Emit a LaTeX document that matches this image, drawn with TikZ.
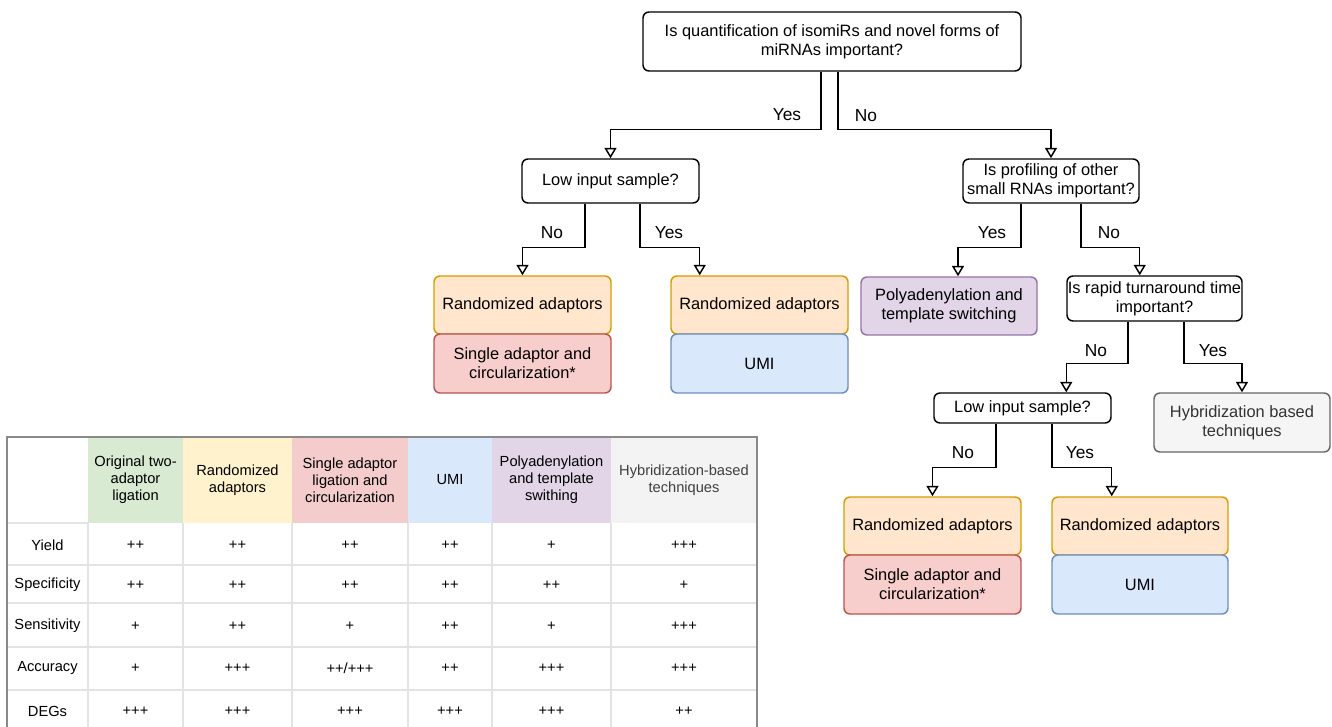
\documentclass[tikz,border=0pt]{standalone}
\usepackage{fontspec}
\setmainfont{Liberation Sans}
\usetikzlibrary{arrows.meta}
\definecolor{orF}{HTML}{FFE6CC}\definecolor{orD}{HTML}{D79B00}
\definecolor{rdF}{HTML}{F8CECC}\definecolor{rdD}{HTML}{B85450}
\definecolor{blF}{HTML}{DAE8FC}\definecolor{blD}{HTML}{6C8EBF}
\definecolor{puF}{HTML}{E1D5E7}\definecolor{puD}{HTML}{9673A6}
\definecolor{gyF}{HTML}{F5F5F5}\definecolor{gyD}{HTML}{666666}\definecolor{gyT}{HTML}{333333}
\definecolor{gnH}{HTML}{D9EAD3}\definecolor{ylH}{HTML}{FFF2CC}\definecolor{rdH}{HTML}{F4CCCC}
\definecolor{blH}{HTML}{DAE8FC}\definecolor{puH}{HTML}{E1D5E7}\definecolor{gyH}{HTML}{F3F3F3}
\definecolor{gridc}{HTML}{E3E3E3}\definecolor{brd}{HTML}{8A8A8A}\definecolor{hybT}{HTML}{404040}
\tikzset{
  box/.style={draw=black, fill=white, rounded corners=4.5pt, line width=1.1pt, inner sep=0pt,
    align=center, font=\fontsize{12.3}{14.3}\selectfont, text=black, minimum width=132.75pt},
  orbox/.style={box, draw=orD, fill=orF, minimum height=43.5pt},
  rdbox/.style={box, draw=rdD, fill=rdF, minimum height=44.25pt},
  blbox/.style={box, draw=blD, fill=blF, minimum height=44.25pt},
  pubox/.style={box, draw=puD, fill=puF, minimum width=132pt, minimum height=43.5pt},
  gybox/.style={box, draw=gyD, fill=gyF, text=gyT, minimum width=132pt, minimum height=44.25pt},
  arr/.style={draw=black, line width=1.1pt, -{Triangle[open, length=7.8pt, width=9pt, line width=1.1pt]}},
  lbl/.style={font=\fontsize{13}{15}\selectfont, inner sep=0pt},
  tcell/.style={font=\fontsize{11}{12.75}\selectfont, align=center, inner sep=0pt},
}
\newcommand\tabrow[9]{%
  \node[tcell] (r#1c0) at (47.5,#2) {#3};
  \node[tcell] (r#1c1) at (135.5,#2) {#4};
  \node[tcell] (r#1c2) at (237.5,#2) {#5};
  \node[tcell] (r#1c3) at (350,#2) {#6};
  \node[tcell] (r#1c4) at (450,#2) {#7};
  \node[tcell] (r#1c5) at (551.5,#2) {#8};
  \node[tcell] (r#1c6) at (684,#2) {#9};}
\begin{document}
\begin{tikzpicture}[x=0.75pt, y=-0.75pt]
\useasboundingbox (0,0) rectangle (1332,727);
% ---------- flowchart nodes ----------
\node[box, minimum width=283.5pt, minimum height=44.25pt] (top) at (832,41.5)
  {Is quantification of isomiRs and novel forms of\\miRNAs important?};
\node[box, minimum height=33pt] (lowL) at (610.5,181) {Low input sample?};
\node[orbox] (randL) at (522.5,305) {Randomized adaptors};
\node[rdbox] (singL) at (522.5,363.5) {Single adaptor and\\circularization*};
\node[orbox] (randR) at (759.5,305) {Randomized adaptors};
\node[blbox] (umiR) at (759.5,363.5) {UMI};
\node[box, minimum width=132pt, minimum height=33pt] (prof) at (1051,181)
  {Is profiling of other\\small RNAs important?};
\node[pubox] (poly) at (949,306) {Polyadenylation and\\template switching};
\node[box, minimum width=131.25pt, minimum height=33.75pt] (rapid) at (1154.5,298.5)
  {Is rapid turnaround time\\important?};
\node[box, minimum height=22.5pt] (lowB) at (1022.5,408) {Low input sample?};
\node[gybox] (hyb) at (1242,422.5) {Hybridization based\\techniques};
\node[orbox] (randB1) at (932.5,526) {Randomized adaptors};
\node[rdbox] (singB) at (932.5,584.5) {Single adaptor and\\circularization*};
\node[orbox, minimum width=132pt] (randB2) at (1140,526) {Randomized adaptors};
\node[blbox, minimum width=132pt] (umiB) at (1140,584.5) {UMI};
% ---------- connectors ----------
\draw[arr] ([xshift=-8.25pt]top.south) -- ++(0,58) -| (lowL.north);
\draw[arr] ([xshift=4.5pt]top.south) -- ++(0,58) -| (prof.north);
\draw[arr] ([xshift=-19.125pt]lowL.south) -- ++(0,44) -| (randL.north);
\draw[arr] ([xshift=22.125pt]lowL.south) -- ++(0,44) -| (randR.north -| lowL.east);
\draw[arr] ([xshift=-22.5pt]prof.south) -- ++(0,44) -| ([xshift=6.75pt]poly.north);
\draw[arr] ([xshift=22.5pt]prof.south) -- ++(0,44) -| (rapid.north -| prof.east);
\draw[arr] ([xshift=-19.875pt]rapid.south) -- ++(0,42) -| (lowB.north -| rapid.west);
\draw[arr] ([xshift=22.125pt]rapid.south) -- ++(0,42) -| (hyb.north);
\draw[arr] ([xshift=-19.875pt]lowB.south) -- ++(0,44) -| (randB1.north);
\draw[arr] ([xshift=22.125pt]lowB.south) -- ++(0,44) -| (randB2.north -| lowB.east);
% ---------- edge labels ----------
\node[lbl] (l1) at (787,115) {Yes};
\node[lbl] (l2) at (866,116) {No};
\node[lbl] (l3) at (552,233) {No};
\node[lbl] (l4) at (669,233) {Yes};
\node[lbl] (l5) at (992,233) {Yes};
\node[lbl] (l6) at (1109,233) {No};
\node[lbl] (l7) at (1096,351) {No};
\node[lbl] (l8) at (1213,351) {Yes};
\node[lbl] (l9) at (963,453) {No};
\node[lbl] (l10) at (1080,453) {Yes};
% ---------- table ----------
\fill[gnH] (88,437) rectangle (183,523);
\fill[ylH] (183,437) rectangle (292,523);
\fill[rdH] (292,437) rectangle (408,523);
\fill[blH] (408,437) rectangle (492,523);
\fill[puH] (492,437) rectangle (611,523);
\fill[gyH] (611,437) rectangle (757,523);
\foreach \yy in {565,603,647,690} \draw[gridc, line width=0.9pt] (7,\yy) -- (757,\yy);
\foreach \xx in {88,183,292,408,492,611} \draw[gridc, line width=0.9pt] (\xx,523) -- (\xx,727);
\draw[gridc, line width=0.9pt] (7,523) -- (88,523);
\draw[brd, line width=1.1pt] (7,727) -- (7,437) -- (757,437) -- (757,727);
\node[tcell] (h1) at (135.5,480) {Original two-\\adaptor\\ligation};
\node[tcell] (h2) at (237.5,480) {Randomized\\adaptors};
\node[tcell] (h3) at (350,480) {Single adaptor\\ligation and\\circularization};
\node[tcell] (h4) at (450,480) {UMI};
\node[tcell] (h5) at (551.5,480) {Polyadenylation\\and template\\swithing};
\node[tcell, text=hybT] (h6) at (684,480) {Hybridization-based\\techniques};
\tabrow{1}{545}{Yield}{++}{++}{++}{++}{+}{+++}
\tabrow{2}{585}{Specificity}{++}{++}{++}{++}{++}{+}
\tabrow{3}{626}{Sensitivity}{+}{++}{+}{++}{+}{+++}
\tabrow{4}{668}{Accuracy}{+}{+++}{++/+++}{++}{+++}{+++}
\tabrow{5}{711}{DEGs}{+++}{+++}{+++}{+++}{+++}{++}
\end{tikzpicture}
\end{document}
